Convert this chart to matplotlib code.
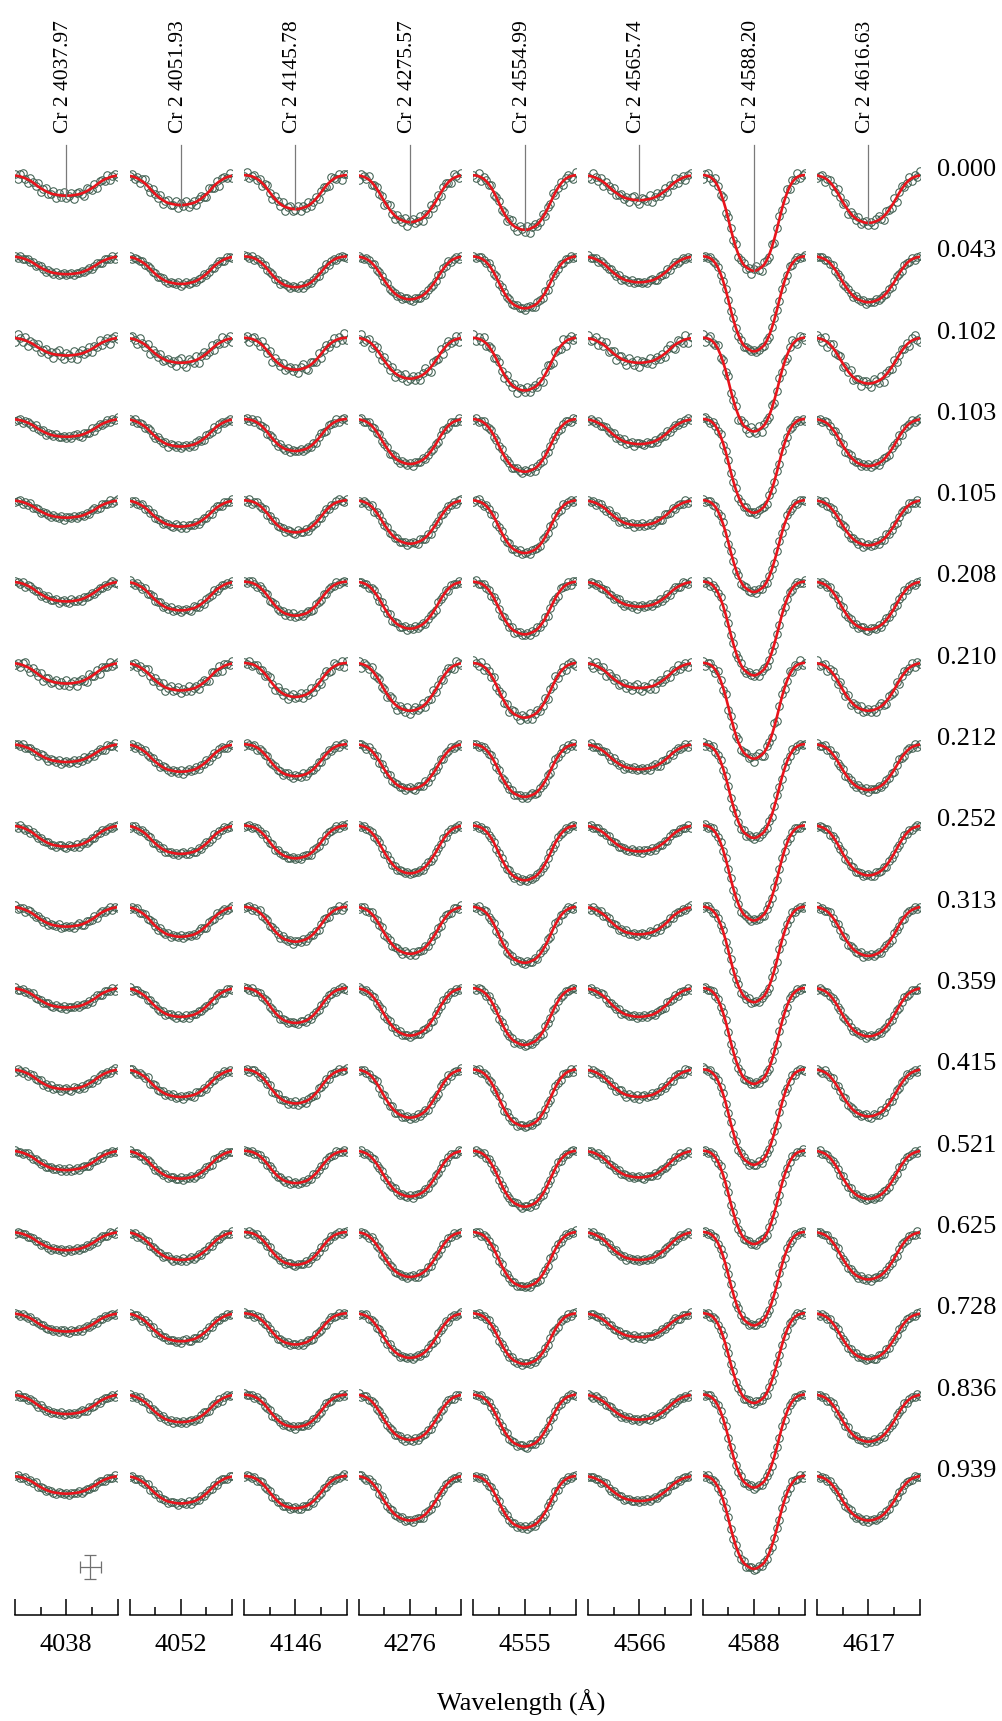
import numpy as np
import matplotlib
matplotlib.use("Agg")
import matplotlib.pyplot as plt

# ---------------- data ----------------
phases = ["0.000", "0.043", "0.102", "0.103", "0.105", "0.208", "0.210", "0.212",
          "0.252", "0.313", "0.359", "0.415", "0.521", "0.625", "0.728", "0.836", "0.939"]
line_ids = ["Cr 2 4037.97", "Cr 2 4051.93", "Cr 2 4145.78", "Cr 2 4275.57",
            "Cr 2 4554.99", "Cr 2 4565.74", "Cr 2 4588.20", "Cr 2 4616.63"]
wave_labels = ["4038", "4052", "4146", "4276", "4555", "4566", "4588", "4617"]

# half line profiles (relative depth), from line centre (0) to window edge (1 Å), step 0.05 Å
prof_narrow = [1.000, 0.995, 0.980, 0.960, 0.935, 0.890, 0.830, 0.755, 0.665, 0.565, 0.455,
               0.350, 0.260, 0.183, 0.120, 0.074, 0.042, 0.021, 0.009, 0.003, 0.000]
prof_mid = [1.000, 0.996, 0.982, 0.960, 0.938, 0.898, 0.845, 0.778, 0.700, 0.610, 0.510,
            0.410, 0.315, 0.235, 0.165, 0.110, 0.070, 0.040, 0.022, 0.010, 0.004]
prof_wide = [1.000, 0.996, 0.984, 0.963, 0.940, 0.905, 0.860, 0.800, 0.730, 0.650, 0.565,
             0.470, 0.375, 0.290, 0.215, 0.150, 0.100, 0.064, 0.040, 0.022, 0.010]
prof_broad = [1.000, 0.996, 0.988, 0.970, 0.950, 0.928, 0.890, 0.840, 0.780, 0.710, 0.635,
              0.550, 0.455, 0.360, 0.280, 0.215, 0.160, 0.110, 0.072, 0.045, 0.028]
line_profile = ["broad", "broad", "mid", "wide", "mid", "broad", "narrow", "wide"]

# central depths (continuum units) per phase
depth_4038 = [0.051, 0.044, 0.044, 0.044, 0.043, 0.049, 0.051, 0.044, 0.052, 0.049, 0.048, 0.049, 0.048, 0.045, 0.045, 0.048, 0.044]
depth_4052 = [0.074, 0.068, 0.062, 0.068, 0.065, 0.071, 0.068, 0.068, 0.070, 0.074, 0.071, 0.068, 0.069, 0.069, 0.069, 0.068, 0.068]
depth_4146 = [0.084, 0.076, 0.079, 0.079, 0.079, 0.084, 0.084, 0.079, 0.081, 0.086, 0.086, 0.084, 0.080, 0.081, 0.077, 0.080, 0.080]
depth_4276 = [0.116, 0.106, 0.101, 0.111, 0.107, 0.116, 0.118, 0.111, 0.118, 0.116, 0.117, 0.119, 0.113, 0.111, 0.110, 0.112, 0.110]
depth_4555 = [0.135, 0.128, 0.130, 0.130, 0.130, 0.130, 0.135, 0.130, 0.135, 0.138, 0.140, 0.140, 0.138, 0.135, 0.125, 0.128, 0.128]
depth_4566 = [0.062, 0.064, 0.062, 0.062, 0.062, 0.062, 0.062, 0.062, 0.064, 0.068, 0.071, 0.068, 0.066, 0.069, 0.059, 0.062, 0.062]
depth_4588 = [0.236, 0.234, 0.231, 0.231, 0.226, 0.231, 0.236, 0.231, 0.234, 0.235, 0.236, 0.235, 0.230, 0.230, 0.221, 0.229, 0.229]
depth_4617 = [0.118, 0.113, 0.113, 0.116, 0.111, 0.118, 0.118, 0.113, 0.123, 0.121, 0.119, 0.116, 0.119, 0.117, 0.113, 0.116, 0.110]

# observational scatter per phase (continuum units) and residual pattern
noise_level = [0.010, 0.004, 0.011, 0.005, 0.005, 0.005, 0.009, 0.005, 0.004,
               0.005, 0.004, 0.005, 0.004, 0.004, 0.004, 0.004, 0.004]
resid = [0.3, -0.8, 0.5, 1.0, -0.2, -0.9, 0.6, 0.1, -0.5, 0.9, -1.0, 0.2, 0.7, -0.4,
         -0.1, 0.8, -0.7, 0.4, -0.3, 1.0, -0.6, 0.0, 0.5, -0.9, 0.3, 0.6, -0.2, -0.8,
         0.9, 0.1, -0.5, 0.7, -1.0, 0.4, 0.2, -0.3, 0.8, -0.6, 0.0, 0.5, -0.4]

# ---------------- layout ----------------
W, H = 1002, 1721
ROW_STEP = 0.2
PX_PER_UNIT = 406.5
CONT0_PX = 175.0
AX_TOP_PX, AX_BOT_PX = 140.0, 1615.0
col_left = [15.0 + i * 114.6 for i in range(8)]
COL_W = 102.5

ymax = 1.0 + (CONT0_PX - AX_TOP_PX) / PX_PER_UNIT
ymin = 1.0 - (AX_BOT_PX - CONT0_PX) / PX_PER_UNIT

plt.rcParams['font.family'] = ['Liberation Serif', 'DejaVu Serif']
fig = plt.figure(figsize=(W / 100, H / 100), dpi=100)

profiles = {"narrow": prof_narrow, "mid": prof_mid, "wide": prof_wide, "broad": prof_broad}
depths = [depth_4038, depth_4052, depth_4146, depth_4276, depth_4555, depth_4566, depth_4588, depth_4617]

x_half = np.linspace(0, 1, 21)
x_full = np.concatenate([-x_half[::-1], x_half[1:]])

obs_color = '#3f5f50'
mod_color = '#e8141c'

for c in range(8):
    ax = fig.add_axes([col_left[c] / W, 1 - AX_BOT_PX / H, COL_W / W, (AX_BOT_PX - AX_TOP_PX) / H])
    half = np.array(profiles[line_profile[c]])
    shape = np.concatenate([half[::-1], half[1:]])
    for r in range(len(phases)):
        cont = 1.0 - r * ROW_STEP
        model = cont - depths[c][r] * shape
        obs = model + noise_level[r] * np.roll(np.array(resid), r * 7 + c * 3)
        ax.plot(x_full, obs, 'o', mfc='none', mec=obs_color, ms=5.4, mew=0.75, zorder=2)
        ax.plot(x_full, model, '-', color=mod_color, lw=1.9, zorder=3)
    # line identification
    ytop = 1.0 + (CONT0_PX - 145) / PX_PER_UNIT
    ax.plot([0, 0], [1.0 - depths[c][0], ytop], color='#7a7a7a', lw=0.9, zorder=4, clip_on=False)
    ax.text(-0.05, 1.0 + (CONT0_PX - 133) / PX_PER_UNIT, line_ids[c], rotation=90,
            ha='center', va='bottom', fontsize=15.5)
    ax.set_xlim(-1, 1)
    ax.set_ylim(ymin, ymax)
    for s in ['left', 'right', 'top']:
        ax.spines[s].set_visible(False)
    ax.spines['bottom'].set_linewidth(1.1)
    ax.set_yticks([])
    ax.set_xticks([-1, 0, 1], ['', wave_labels[c], ''])
    ax.set_xticks([-0.5, 0.5], minor=True)
    ax.tick_params(axis='x', which='major', direction='in', length=11.5, width=1.1,
                   labelsize=19, pad=14)
    ax.tick_params(axis='x', which='minor', direction='in', length=5.8, width=1.1)
    if c == 0:
        ax.errorbar([0.47], [1.0 - (1567 - CONT0_PX) / PX_PER_UNIT], xerr=[0.2], yerr=[0.03],
                    fmt='none', ecolor='#707070', elinewidth=0.9, capsize=4, capthick=0.9)
    if c == 7:
        for r, ph in enumerate(phases):
            cont = 1.0 - r * ROW_STEP
            ax.text(-1 + (937 - col_left[7]) / COL_W * 2, cont + 5 / PX_PER_UNIT, ph,
                    ha='left', va='center', fontsize=19)

fig.text(521 / W, 1 - 1703 / H, "Wavelength (Å)", ha='center', va='center', fontsize=19)

fig.savefig("out.png", dpi=100)
